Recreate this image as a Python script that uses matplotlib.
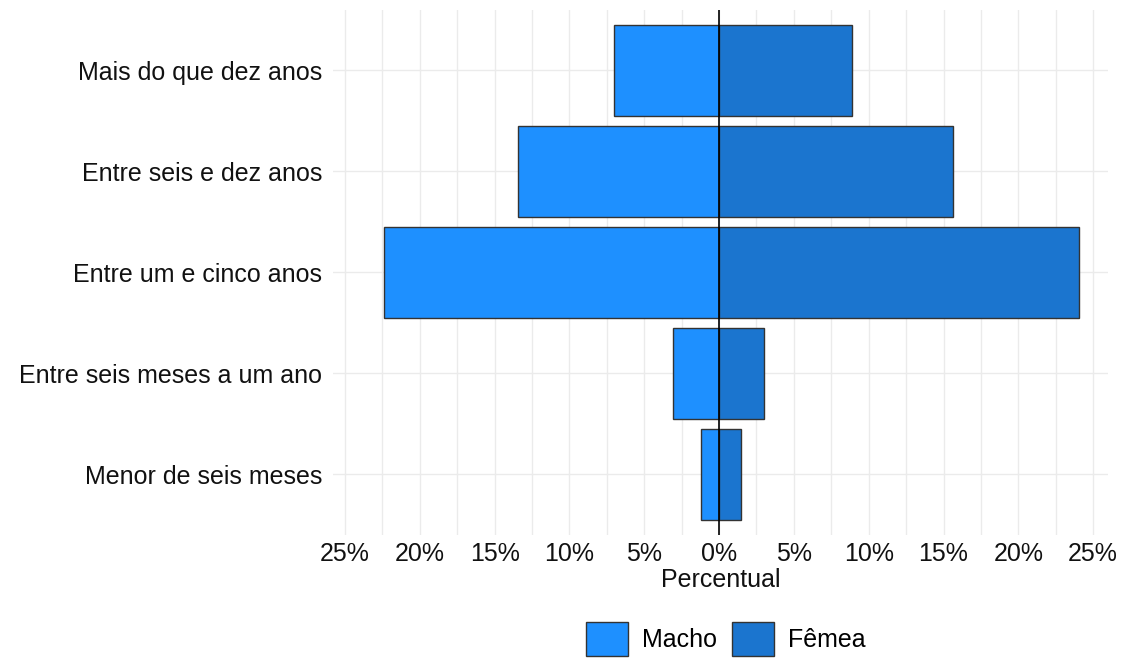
import matplotlib
matplotlib.use('Agg')

import matplotlib.pyplot as plt
from matplotlib.ticker import MultipleLocator, FuncFormatter
from matplotlib.patches import Patch

plt.rcParams['font.family'] = ['Liberation Sans', 'DejaVu Sans']

categories = ["Menor de seis meses", "Entre seis meses a um ano", "Entre um e cinco anos",
              "Entre seis e dez anos", "Mais do que dez anos"]
macho = [1.2, 3.1, 22.4, 13.45, 7.0]
femea = [1.45, 3.0, 24.05, 15.6, 8.9]
xticks = [-25, -20, -15, -10, -5, 0, 5, 10, 15, 20, 25]

c_macho = "#1E90FF"
c_femea = "#1B75CF"

fig = plt.figure(figsize=(11.25, 6.61), dpi=100)
ax = fig.add_axes([0.296, 0.191, 0.689, 0.794])

y = list(range(len(categories)))
ax.barh(y, [-v for v in macho], height=0.9, color=c_macho, edgecolor="#333333", linewidth=1, zorder=2)
ax.barh(y, femea, height=0.9, color=c_femea, edgecolor="#333333", linewidth=1, zorder=2)
ax.axvline(0, color="black", linewidth=1.2, zorder=3)

ax.set_xlim(-25.8, 26.0)
ax.set_ylim(-0.6, len(categories) - 0.4)
ax.set_xticks(xticks)
ax.xaxis.set_minor_locator(MultipleLocator(2.5))
ax.xaxis.set_major_formatter(FuncFormatter(lambda v, p: "%d%%" % abs(v)))
ax.set_yticks(y)
ax.set_yticklabels(categories)

ax.grid(True, which="both", axis="x", color="#ebebeb", linewidth=1, zorder=0)
ax.grid(True, which="major", axis="y", color="#ebebeb", linewidth=1, zorder=0)
ax.set_axisbelow(True)
for s in ax.spines.values():
    s.set_visible(False)
ax.tick_params(axis="both", which="both", length=0, labelsize=18, colors="#111111")
ax.tick_params(axis="x", pad=5)
ax.tick_params(axis="y", pad=8)
ax.set_xlabel("Percentual", fontsize=18, labelpad=2, color="#111111")

handles = [Patch(facecolor=c_macho, edgecolor="#333333", label="Macho"),
           Patch(facecolor=c_femea, edgecolor="#333333", label="Fêmea")]
fig.legend(handles=handles, loc="lower center", bbox_to_anchor=(0.645, 0.008), ncol=2,
           frameon=False, fontsize=18, handlelength=1.68, handleheight=1.68,
           handletextpad=0.55, columnspacing=0.6, borderpad=0, borderaxespad=0)

plt.savefig("out.png", dpi=100)
